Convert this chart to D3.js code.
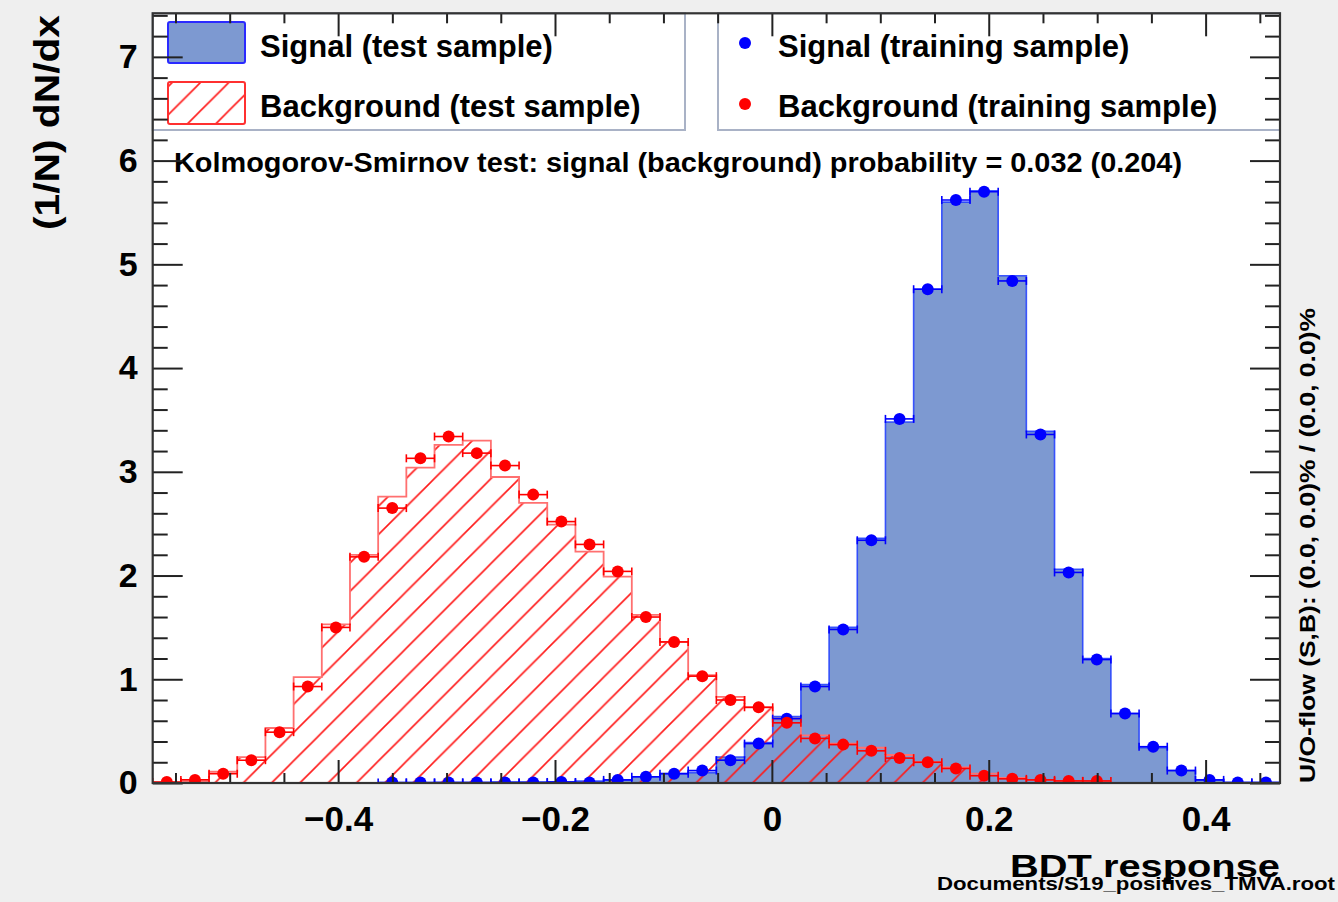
<!DOCTYPE html>
<html>
<head>
<meta charset="utf-8">
<script src="https://cdn.jsdelivr.net/npm/d3@7"></script>
<style>
  html, body { margin: 0; padding: 0; background: #efefef; }
  svg { display: block; }
  text { font-family: "Liberation Sans", Arial, Helvetica, sans-serif; font-weight: bold; fill: #000; }
</style>
</head>
<body>
<svg id="chart" width="1338" height="902"></svg>
<script>
// ---------------- data ----------------
const xRange = [-0.571, 0.4686];       // BDT response axis range (40 bins)
const nBins = 40;
const yMax = 7.42;

// Signal (test sample) – filled histogram
const signalTest = [0, 0, 0, 0, 0, 0, 0, 0, 0, 0,
  0.005, 0.005, 0.01, 0.01, 0.01, 0.02, 0.03, 0.06, 0.09, 0.10,
  0.25, 0.39, 0.64, 0.95, 1.50, 2.36, 3.48, 4.76, 5.60, 5.71,
  4.89, 3.39, 2.06, 1.20, 0.67, 0.34, 0.12, 0.03, 0.005, 0.005];

// Background (test sample) – hatched histogram
const backgroundTest = [0.005, 0.01, 0.11, 0.25, 0.53, 1.02, 1.53, 2.20, 2.76, 3.04,
  3.26, 3.30, 2.95, 2.70, 2.49, 2.23, 1.99, 1.62, 1.36, 1.04,
  0.83, 0.73, 0.62, 0.46, 0.38, 0.34, 0.27, 0.20, 0.15, 0.09,
  0.05, 0.03, 0.02, 0.01, 0, 0, 0, 0, 0, 0];

// Signal (training sample) – points (null = empty bin, not drawn)
const signalTrain = [null, null, null, null, null, null, null, null, 0.005, 0.005,
  0.005, 0.005, 0.005, 0.005, 0.01, 0.005, 0.03, 0.06, 0.09, 0.12,
  0.22, 0.38, 0.62, 0.93, 1.48, 2.34, 3.51, 4.76, 5.62, 5.70,
  4.84, 3.36, 2.03, 1.19, 0.67, 0.35, 0.12, 0.03, 0.005, 0.005];

// Background (training sample) – points
const backgroundTrain = [0.01, 0.03, 0.09, 0.22, 0.49, 0.93, 1.50, 2.18, 2.65, 3.13,
  3.34, 3.18, 3.06, 2.78, 2.52, 2.30, 2.04, 1.60, 1.36, 1.03,
  0.80, 0.73, 0.58, 0.43, 0.37, 0.31, 0.24, 0.20, 0.14, 0.07,
  0.04, 0.03, 0.02, 0.02, null, null, null, null, null, null];

const xTickValues = [-0.4, -0.2, 0, 0.2, 0.4];
const xTickLabels = ["\u22120.4", "\u22120.2", "0", "0.2", "0.4"];
const yTickValues = [0, 1, 2, 3, 4, 5, 6, 7];
const yTickLabels = ["0", "1", "2", "3", "4", "5", "6", "7"];

const legendLeft = ["Signal (test sample)", "Background (test sample)"];
const legendRight = ["Signal (training sample)", "Background (training sample)"];
const ksText = "Kolmogorov-Smirnov test: signal (background) probability = 0.032 (0.204)";
const xTitle = "BDT response";
const yTitle = "(1/N) dN/dx";
const flowText = "U/O-flow (S,B): (0.0, 0.0)% / (0.0, 0.0)%";
const fileText = "Documents/S19_positives_TMVA.root";

// ---------------- layout ----------------
const L = 152.7, R = 1280, T = 13.3, B = 783;
const svg = d3.select("#chart");
const x = d3.scaleLinear().domain(xRange).range([L, R]);
const y = d3.scaleLinear().domain([0, yMax]).range([B, T]);
const bw = (xRange[1] - xRange[0]) / nBins;
const edges = d3.range(nBins + 1).map(i => xRange[0] + i * bw);

const sigFill = "#7d99d1", sigLine = "#1f3cff";

// hatch pattern
const defs = svg.append("defs");
const hp = 28.3;
function hatch(id, off) {
  const p = defs.append("pattern").attr("id", id)
    .attr("patternUnits", "userSpaceOnUse")
    .attr("width", hp).attr("height", hp).attr("x", off).attr("y", 0);
  p.append("path").attr("d", `M${-2},${hp + 2} L${hp + 2},${-2} M${-2},2 L2,-2 M${hp - 2},${hp + 2} L${hp + 2},${hp - 2}`)
    .attr("stroke", "#ff1a1a").attr("stroke-width", 1.6).attr("fill", "none");
}
hatch("hatchMain", 7.4);
hatch("hatchLeg", 0);
defs.append("clipPath").attr("id", "frameClip").append("rect")
  .attr("x", L).attr("y", T).attr("width", R - L).attr("height", B - T);

// plot background
svg.append("rect").attr("x", L).attr("y", T).attr("width", R - L).attr("height", B - T).attr("fill", "#fff");

const plot = svg.append("g").attr("clip-path", "url(#frameClip)");

function stepPoints(vals) {
  const pts = [[x(edges[0]), y(0)]];
  vals.forEach((v, i) => {
    pts.push([x(edges[i]), y(v)]);
    pts.push([x(edges[i + 1]), y(v)]);
  });
  pts.push([x(edges[nBins]), y(0)]);
  return pts;
}
const line = d3.line();

// signal test histogram
plot.append("path").attr("d", line(stepPoints(signalTest)) + "Z")
  .attr("fill", sigFill).attr("stroke", sigLine).attr("stroke-width", 1.6).attr("stroke-opacity", 0.85);

// background test histogram
plot.append("path").attr("d", line(stepPoints(backgroundTest)) + "Z")
  .attr("fill", "url(#hatchMain)").attr("stroke", "#ff7070").attr("stroke-width", 1.8);

// training points with horizontal error bars
function drawPoints(vals, color) {
  const g = plot.append("g");
  vals.forEach((v, i) => {
    if (v === null) return;
    const x0 = x(edges[i]), x1 = x(edges[i + 1]), yy = y(v), xc = (x0 + x1) / 2;
    g.append("line").attr("x1", x0).attr("x2", x1).attr("y1", yy).attr("y2", yy)
      .attr("stroke", color).attr("stroke-width", 1.6);
    [x0, x1].forEach(xe => g.append("line").attr("x1", xe).attr("x2", xe)
      .attr("y1", yy - 4).attr("y2", yy + 4).attr("stroke", color).attr("stroke-width", 1.6));
    g.append("circle").attr("cx", xc).attr("cy", yy).attr("r", 6).attr("fill", color);
  });
}
drawPoints(signalTrain, "#0000ff");
drawPoints(backgroundTrain, "#ff0000");

// ---------------- legends ----------------
const legBorder = "#a9b2c6";
svg.append("rect").attr("x", L).attr("y", T).attr("width", 685 - L).attr("height", 130 - T)
  .attr("fill", "#fff").attr("stroke", legBorder).attr("stroke-width", 2);
svg.append("rect").attr("x", 718).attr("y", T).attr("width", R - 718).attr("height", 130 - T)
  .attr("fill", "#fff").attr("stroke", legBorder).attr("stroke-width", 2);

svg.append("rect").attr("x", 168).attr("y", 22).attr("width", 77).attr("height", 41).attr("rx", 2)
  .attr("fill", sigFill).attr("stroke", "#2a2aff").attr("stroke-width", 2);
svg.append("rect").attr("x", 168).attr("y", 82).attr("width", 77).attr("height", 42).attr("rx", 2)
  .attr("fill", "url(#hatchLeg)").attr("stroke", "#ff3030").attr("stroke-width", 2);
svg.append("text").attr("x", 260).attr("y", 57).attr("font-size", 31).text(legendLeft[0]);
svg.append("text").attr("x", 260).attr("y", 117).attr("font-size", 31).text(legendLeft[1]);

svg.append("circle").attr("cx", 745).attr("cy", 43).attr("r", 6).attr("fill", "#0000ff");
svg.append("circle").attr("cx", 745).attr("cy", 104).attr("r", 6).attr("fill", "#ff0000");
svg.append("text").attr("x", 778).attr("y", 57).attr("font-size", 31).text(legendRight[0]);
svg.append("text").attr("x", 778).attr("y", 117).attr("font-size", 31).text(legendRight[1]);

svg.append("text").attr("x", 174).attr("y", 172).attr("font-size", 27)
  .attr("textLength", 1008).attr("lengthAdjust", "spacingAndGlyphs").text(ksText);

// ---------------- axes ----------------
const axisColor = "#222";
const xMinor = d3.range(-0.55, 0.46, 0.05).map(v => +v.toFixed(2)).filter(v => !xTickValues.some(t => Math.abs(t - v) < 1e-6));
const yMinor = d3.range(0, 7.41, 0.2).map(v => +v.toFixed(2)).filter(v => !yTickValues.some(t => Math.abs(t - v) < 1e-6));

function styleAxis(g) {
  g.select(".domain").remove();
  g.selectAll(".tick line").attr("stroke", axisColor).attr("stroke-width", 2);
}
// bottom
svg.append("g").attr("transform", `translate(0,${B})`)
  .call(d3.axisBottom(x).tickValues(xTickValues).tickSize(-23).tickPadding(23)
    .tickFormat((d, i) => xTickLabels[i]))
  .call(styleAxis)
  .call(g => g.selectAll("text").attr("font-size", 35).attr("font-family", "Liberation Sans, Arial, sans-serif").attr("font-weight", "bold").attr("fill", "#000"));
svg.append("g").attr("transform", `translate(0,${B})`)
  .call(d3.axisBottom(x).tickValues(xMinor).tickSize(-10).tickFormat(""))
  .call(styleAxis);
// top
svg.append("g").attr("transform", `translate(0,${T})`)
  .call(d3.axisTop(x).tickValues(xTickValues).tickSize(-23).tickFormat(""))
  .call(styleAxis);
svg.append("g").attr("transform", `translate(0,${T})`)
  .call(d3.axisTop(x).tickValues(xMinor).tickSize(-10).tickFormat(""))
  .call(styleAxis);
// left
svg.append("g").attr("transform", `translate(${L},0)`)
  .call(d3.axisLeft(y).tickValues(yTickValues).tickSize(-30).tickPadding(15)
    .tickFormat((d, i) => yTickLabels[i]))
  .call(styleAxis)
  .call(g => g.selectAll("text").attr("font-size", 34).attr("font-family", "Liberation Sans, Arial, sans-serif").attr("font-weight", "bold").attr("fill", "#000"));
svg.append("g").attr("transform", `translate(${L},0)`)
  .call(d3.axisLeft(y).tickValues(yMinor).tickSize(-15).tickFormat(""))
  .call(styleAxis);
// right
svg.append("g").attr("transform", `translate(${R},0)`)
  .call(d3.axisRight(y).tickValues(yTickValues).tickSize(-30).tickFormat(""))
  .call(styleAxis);
svg.append("g").attr("transform", `translate(${R},0)`)
  .call(d3.axisRight(y).tickValues(yMinor).tickSize(-15).tickFormat(""))
  .call(styleAxis);

// frame
svg.append("rect").attr("x", L).attr("y", T).attr("width", R - L).attr("height", B - T)
  .attr("fill", "none").attr("stroke", "#333").attr("stroke-width", 2.2);

// ---------------- titles ----------------
svg.append("text").attr("transform", "translate(59,15) rotate(-90)")
  .attr("text-anchor", "end").attr("font-size", 35).attr("textLength", 215).attr("lengthAdjust", "spacingAndGlyphs").text(yTitle);
svg.append("text").attr("x", 1280).attr("y", 877).attr("text-anchor", "end")
  .attr("font-size", 31).attr("textLength", 270).attr("lengthAdjust", "spacingAndGlyphs").text(xTitle);
svg.append("text").attr("x", 1335).attr("y", 890).attr("text-anchor", "end")
  .attr("font-size", 19).attr("textLength", 398).attr("lengthAdjust", "spacingAndGlyphs").text(fileText);
svg.append("text").attr("transform", "translate(1315,783) rotate(-90)")
  .attr("font-size", 22).attr("textLength", 475).attr("lengthAdjust", "spacingAndGlyphs").text(flowText);
</script>
</body>
</html>
